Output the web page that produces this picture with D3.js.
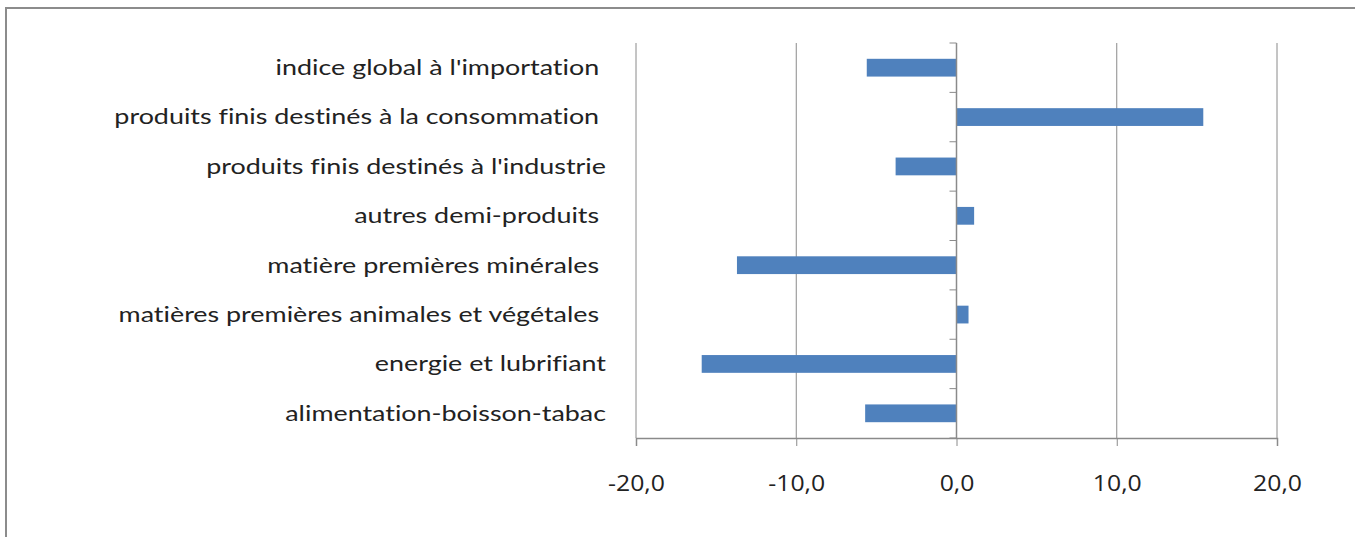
<!DOCTYPE html>
<html>
<head>
<meta charset="utf-8">
<script src="https://cdn.jsdelivr.net/npm/d3@7"></script>
<style>
  body { margin: 0; background: #fff; }
  .cat text { font-family: Lato, "Open Sans", sans-serif; font-size: 21px; fill: #222; white-space: pre; font-variant-ligatures: none; }
  .val text { font-family: "Open Sans", Lato, sans-serif; font-size: 21px; fill: #222; }
</style>
</head>
<body>
<svg id="chart" width="1355" height="537"></svg>
<script>
const categories = [
  "indice global à l'importation ",
  "produits finis destinés à la consommation ",
  "produits finis destinés à l'industrie",
  "autres demi-produits ",
  "matière premières minérales ",
  "matières premières animales et végétales ",
  "energie et lubrifiant",
  "alimentation-boisson-tabac"
];
const values = [-5.6, 15.4, -3.8, 1.1, -13.7, 0.75, -15.9, -5.7];
const xTicks = [-20, -10, 0, 10, 20];

const svg = d3.select("#chart");
const margin = { top: 43, right: 78, bottom: 99, left: 636 };
const width = +svg.attr("width");
const height = +svg.attr("height");
// the original picture is stretched sideways, text too
const stretch = 1.28;

// outer frame (left + top edges only are visible)
svg.append("path")
  .attr("d", `M6,${height}V8H${width}`)
  .attr("fill", "none")
  .attr("stroke", "#8c8c8c")
  .attr("stroke-width", 2);

const x = d3.scaleLinear()
  .domain([-20, 20])
  .range([margin.left, width - margin.right]);

const y = d3.scaleBand()
  .domain(categories)
  .range([margin.top, height - margin.bottom])
  .paddingInner(0.64)
  .paddingOuter(0.32);

const yLines = d3.scaleBand().domain(categories).range([margin.top, height - margin.bottom]);

// vertical gridlines
svg.append("g")
  .selectAll("line")
  .data(xTicks)
  .join("line")
  .attr("x1", (d) => x(d))
  .attr("x2", (d) => x(d))
  .attr("y1", margin.top)
  .attr("y2", height - margin.bottom)
  .attr("stroke", "#8a8a8a")
  .attr("stroke-width", 1);

// bars
svg.append("g")
  .selectAll("rect")
  .data(values)
  .join("rect")
  .attr("x", (d) => x(Math.min(0, d)))
  .attr("width", (d) => Math.abs(x(d) - x(0)))
  .attr("y", (d, i) => y(categories[i]))
  .attr("height", y.bandwidth())
  .attr("fill", "#4f81bd");

// value axis at bottom
const xAxis = svg.append("g")
  .attr("class", "val")
  .attr("transform", `translate(0,${height - margin.bottom})`)
  .call(
    d3.axisBottom(x)
      .tickValues(xTicks)
      .tickSize(8)
      .tickPadding(30)
      .tickFormat((d) => d3.format(".1f")(d).replace(".", ",").replace("−", "-"))
  );
xAxis.select(".domain").attr("stroke", "#8a8a8a").attr("stroke-width", 1.5);
xAxis.selectAll(".tick line").attr("stroke", "#8a8a8a");
xAxis.selectAll("text")
  .attr("font-family", null)
  .attr("font-size", null)
  .attr("transform", "scale(1.18,1)");

// category axis at zero
const catAxis = svg.append("g")
  .attr("transform", `translate(${x(0)},0)`);
catAxis.append("line")
  .attr("y1", margin.top)
  .attr("y2", height - margin.bottom)
  .attr("stroke", "#8a8a8a")
  .attr("stroke-width", 1.5);
catAxis.selectAll(".cat-tick")
  .data(categories.concat([null]))
  .join("line")
  .attr("x1", -7)
  .attr("x2", 0)
  .attr("y1", (d, i) => margin.top + i * yLines.step())
  .attr("y2", (d, i) => margin.top + i * yLines.step())
  .attr("stroke", "#8a8a8a");

// category labels on the left
svg.append("g")
  .attr("class", "cat")
  .selectAll("text")
  .data(categories)
  .join("text")
  .attr("transform", (d) => `translate(606,${yLines(d) + yLines.bandwidth() / 2}) scale(${stretch},1)`)
  .attr("dy", "0.35em")
  .attr("text-anchor", "end")
  .text((d) => d);
</script>
</body>
</html>
